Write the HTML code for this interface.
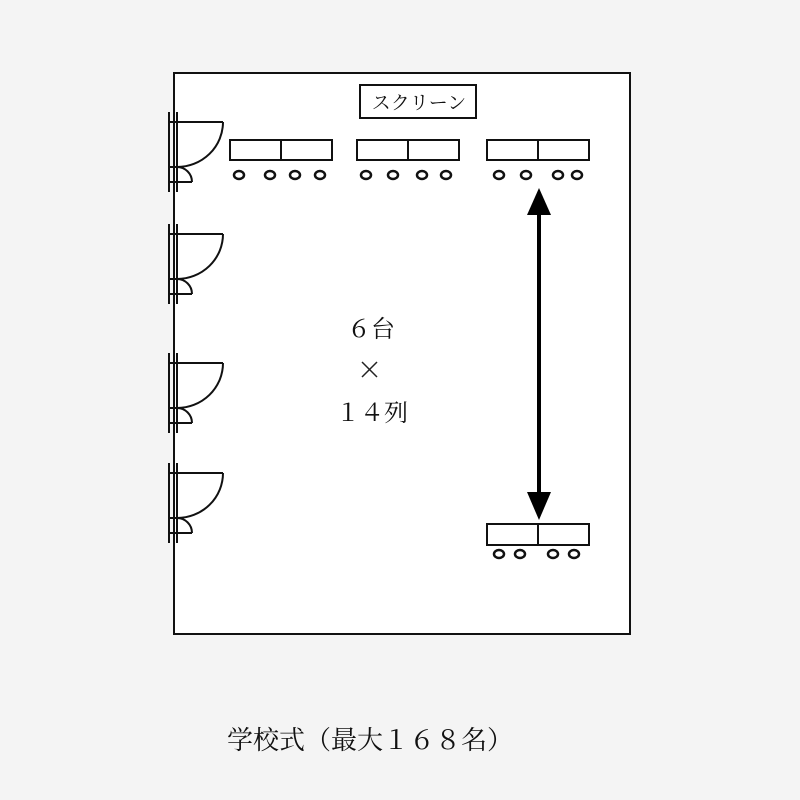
<!DOCTYPE html>
<html><head><meta charset="utf-8"><style>
html,body{margin:0;padding:0;background:#f4f4f4;}
svg{display:block;}
text{font-family:"Liberation Serif","Noto Serif CJK SC","Noto Sans CJK JP",serif;fill:#111;}
</style></head><body>
<svg width="800" height="800" viewBox="0 0 800 800" xmlns="http://www.w3.org/2000/svg">
<rect x="0" y="0" width="800" height="800" fill="#f4f4f4"/>
<rect x="174" y="73" width="456" height="561" fill="#fff" stroke="#111" stroke-width="2"/>
<g stroke="#111" stroke-width="2" fill="none">
<rect x="360" y="85" width="116" height="33"/>
</g>
<text x="419" y="109" font-size="19" text-anchor="middle">スクリーン</text>
<g stroke="#111" stroke-width="2" fill="#fff">
<rect x="230" y="140" width="102" height="20"/><line x1="281" y1="140" x2="281" y2="160"/>
<rect x="357" y="140" width="102" height="20"/><line x1="408" y1="140" x2="408" y2="160"/>
<rect x="487" y="140" width="102" height="20"/><line x1="538" y1="140" x2="538" y2="160"/>
<rect x="487" y="524" width="102" height="21"/><line x1="538" y1="524" x2="538" y2="545"/>
</g>
<g stroke="#111" stroke-width="2.5" fill="#fff">
<ellipse cx="239" cy="175" rx="5" ry="4"/><ellipse cx="270" cy="175" rx="5" ry="4"/><ellipse cx="295" cy="175" rx="5" ry="4"/><ellipse cx="320" cy="175" rx="5" ry="4"/>
<ellipse cx="366" cy="175" rx="5" ry="4"/><ellipse cx="393" cy="175" rx="5" ry="4"/><ellipse cx="422" cy="175" rx="5" ry="4"/><ellipse cx="446" cy="175" rx="5" ry="4"/>
<ellipse cx="499" cy="175" rx="5" ry="4"/><ellipse cx="526" cy="175" rx="5" ry="4"/><ellipse cx="558" cy="175" rx="5" ry="4"/><ellipse cx="577" cy="175" rx="5" ry="4"/>
<ellipse cx="499" cy="554" rx="5" ry="4"/><ellipse cx="520" cy="554" rx="5" ry="4"/><ellipse cx="553" cy="554" rx="5" ry="4"/><ellipse cx="574" cy="554" rx="5" ry="4"/>
</g>
<line x1="539" y1="210" x2="539" y2="500" stroke="#000" stroke-width="4"/>
<polygon points="539,188 527,215 551,215" fill="#000"/>
<polygon points="539,520 527,492 551,492" fill="#000"/>
<defs>
<g id="door" stroke="#111" stroke-width="2" fill="none">
<line x1="169" y1="0" x2="169" y2="80"/>
<line x1="177" y1="0" x2="177" y2="80"/>
<line x1="169" y1="10" x2="223" y2="10"/>
<path d="M223 10 A46 45 0 0 1 177 55"/>
<line x1="169" y1="55" x2="177" y2="55"/>
<path d="M177 55 A15 15 0 0 1 192 70"/>
<line x1="169" y1="70" x2="192" y2="70"/>
</g>
</defs>
<rect x="168" y="74" width="5" height="559" fill="#f4f4f4"/>
<line x1="174" y1="73" x2="174" y2="634" stroke="#111" stroke-width="2"/>
<use href="#door" y="112"/>
<use href="#door" y="224"/>
<use href="#door" y="353"/>
<use href="#door" y="463"/>
<text x="371" y="337" font-size="24" text-anchor="middle">６台</text>
<line x1="362" y1="362" x2="377" y2="377" stroke="#222" stroke-width="1.5"/>
<line x1="377" y1="362" x2="362" y2="377" stroke="#222" stroke-width="1.5"/>
<text x="372" y="421" font-size="24" text-anchor="middle">１４列</text>
<text x="370" y="749" font-size="26" text-anchor="middle">学校式（最大１６８名）</text>
</svg>
</body></html>
